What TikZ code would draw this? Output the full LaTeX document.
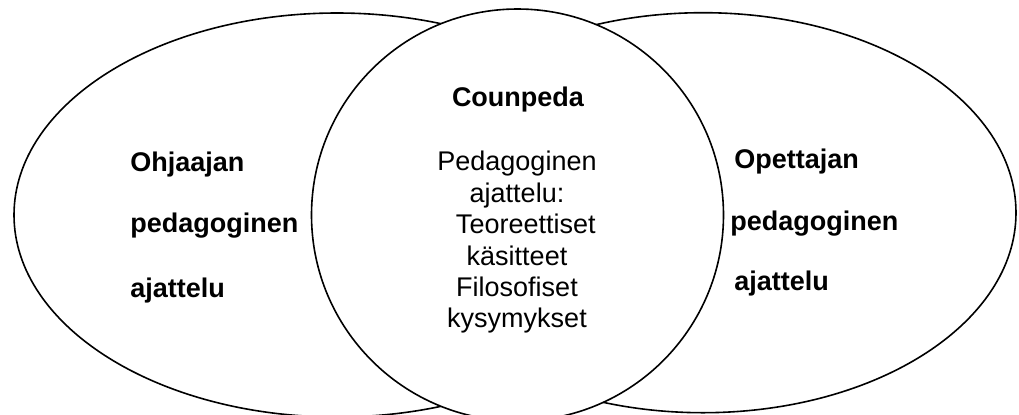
\documentclass[tikz,border=0pt]{standalone}
\usepackage{fontspec}
\setmainfont{Liberation Sans}

\begin{document}
\begin{tikzpicture}[x=0.5pt,y=-0.5pt,
    ring/.style={line width=0.8pt},
    txt/.style={inner sep=0pt,font=\fontsize{13.5}{15.7}\selectfont},
    hd/.style={txt,font=\fontsize{13.5}{15.7}\selectfont\bfseries}]
    % \draw[very thin,color=gray] (0,0) grid[step=50] (1019,414);
    \clip (0,0) rectangle (1019,414);
    %ohjaaja
    \draw[ring] (337,215) ellipse [x radius=323,y radius=202];
    %opettaja
    \draw[ring] (703,212.7) ellipse [x radius=313,y radius=200];
    %counpeda
    \draw[ring,fill=white] (517.5,215) circle [radius=206];
    \node[hd,anchor=base] (coun) at (518,106.7) {Counpeda};
    \node[txt,align=center,anchor=north] (counped) at (517,151)
        {Pedagoginen\\ajattelu:\\\hspace*{0.65em}Teoreettiset\\käsitteet\\Filosofiset\\kysymykset};
    %left texts
    \node[hd,anchor=base west] (ohj1) at (130,171) {Ohjaajan};
    \node[hd,anchor=base west] (ohj2) at (130,232) {pedagoginen};
    \node[hd,anchor=base west] (ohj3) at (130,297) {ajattelu};
    %right texts
    \node[hd,anchor=base west] (ope1) at (734,168) {Opettajan};
    \node[hd,anchor=base west] (ope2) at (730,230) {pedagoginen};
    \node[hd,anchor=base west] (ope3) at (734,290) {ajattelu};
\end{tikzpicture}
\end{document}
